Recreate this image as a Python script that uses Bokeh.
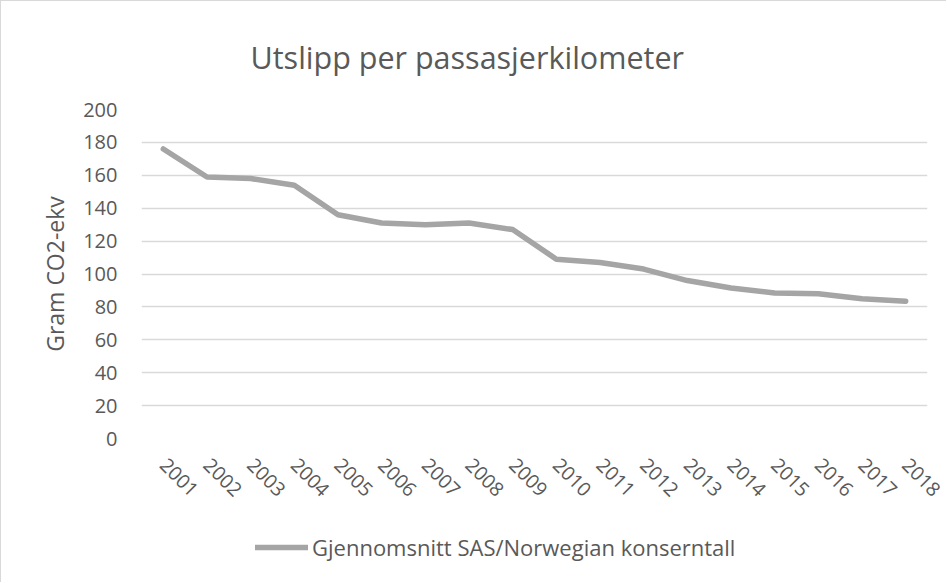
from bokeh.plotting import figure
from bokeh.layouts import column
from bokeh.models import Legend, LegendItem, Range1d, FactorRange, SingleIntervalTicker
from bokeh.embed import file_html
from bokeh.resources import INLINE
import math

years = ["2001", "2002", "2003", "2004", "2005", "2006", "2007", "2008", "2009",
         "2010", "2011", "2012", "2013", "2014", "2015", "2016", "2017", "2018"]
values = [176, 159, 158, 154, 136, 131, 130, 131, 127,
          109, 107, 103, 96, 91.5, 88.5, 88, 85, 83.5]
series_name = "Gjennomsnitt SAS/Norwegian konserntall"
title_text = "Utslipp per passasjerkilometer"
y_label = "Gram CO2-ekv"

FONT = "Open Sans"
TXT = "#595959"
LINE = "#a5a5a5"
W = 945

p = figure(width=W, height=520, x_range=FactorRange(*years),
           y_range=Range1d(0, 200), output_backend="svg", toolbar_location=None,
           min_border_left=140, min_border_right=19, min_border_top=106,
           min_border_bottom=83)
p.x_range.range_padding = 0
p.x_range.factor_padding = 0

p.title.text = title_text
p.title.align = "left"
p.title.offset = 109
p.title.text_font = FONT
p.title.text_font_size = "30.5px"
p.title.text_font_style = "normal"
p.title.text_color = TXT
p.title.standoff = 64

p.outline_line_color = None
p.background_fill_color = "white"
p.border_fill_color = "white"

p.xgrid.grid_line_color = None
p.ygrid.grid_line_color = "#d9d9d9"
p.ygrid.grid_line_width = 1.3

p.yaxis.ticker = SingleIntervalTicker(interval=20)
p.yaxis.axis_line_color = None
p.yaxis.major_tick_line_color = None
p.yaxis.minor_tick_line_color = None
p.yaxis.major_label_standoff = 18
p.yaxis.major_label_text_font = FONT
p.yaxis.major_label_text_font_size = "20px"
p.yaxis.major_label_text_color = TXT
p.yaxis.axis_label = y_label
p.yaxis.axis_label_text_font = FONT
p.yaxis.axis_label_text_font_size = "23px"
p.yaxis.axis_label_text_font_style = "normal"
p.yaxis.axis_label_text_color = TXT
p.yaxis.axis_label_standoff = 9

p.xaxis.axis_line_color = None
p.xaxis.major_tick_line_color = None
p.xaxis.minor_tick_line_color = None
p.xaxis.major_label_orientation = -math.pi / 4
p.xaxis.major_label_standoff = 17
p.xaxis.major_label_text_font = FONT
p.xaxis.major_label_text_font_size = "19.5px"
p.xaxis.major_label_text_color = TXT

r = p.line(years, values, line_color=LINE, line_width=5.5,
           line_cap="round", line_join="round")

# legend strip below the chart (its line lies outside the visible range)
p2 = figure(width=W, height=61, x_range=Range1d(0, 1), y_range=Range1d(0, 1),
            output_backend="svg", toolbar_location=None,
            min_border_left=0, min_border_right=0, min_border_top=0,
            min_border_bottom=0)
p2.axis.visible = False
p2.grid.grid_line_color = None
p2.outline_line_color = None
r2 = p2.line([5, 6], [5, 6], line_color=LINE, line_width=5.5, line_cap="round")
legend = Legend(items=[LegendItem(label=series_name, renderers=[r2])],
                location=(114, 20), orientation="horizontal",
                padding=0, margin=0, border_line_color=None,
                background_fill_alpha=0,
                glyph_width=53, glyph_height=24, label_height=24,
                label_standoff=4,
                label_text_font=FONT, label_text_font_size="22px",
                label_text_color=TXT)
p2.add_layout(legend, "center")

layout = column(p, p2, spacing=0,
                styles={"border-left": "1px solid #d9d9d9",
                        "border-top": "1px solid #d9d9d9"})

open("out.html", "w").write(file_html(layout, INLINE))
